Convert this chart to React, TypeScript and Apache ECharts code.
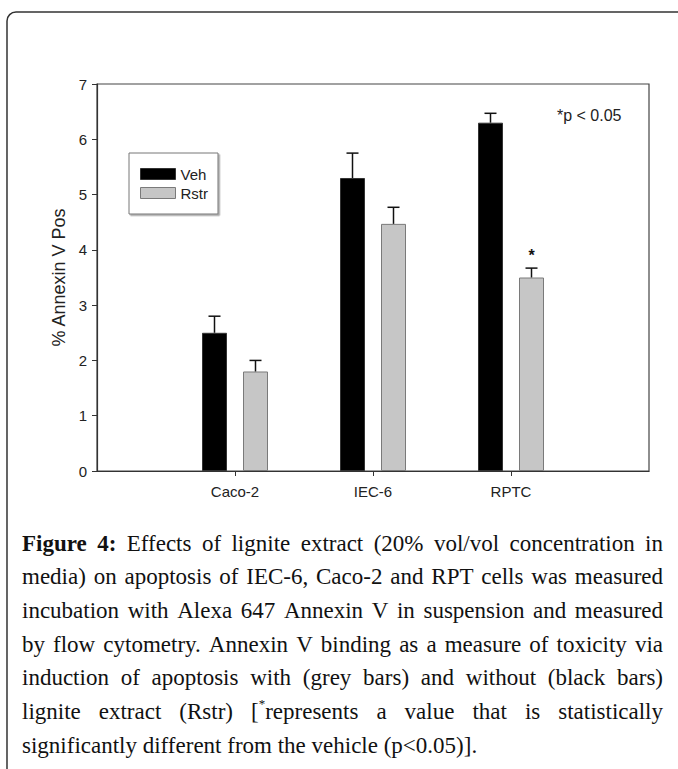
import React, { useEffect, useRef } from "react";
import * as echarts from "echarts";

// ---------- data ----------
const categories = ["Caco-2", "IEC-6", "RPTC"];
const vehValues = [2.5, 5.3, 6.3];
const vehErrors = [0.3, 0.45, 0.17];
const rstrValues = [1.8, 4.47, 3.5];
const rstrErrors = [0.2, 0.3, 0.17];
const rstrSignificant = [false, false, true];
const yTicks = [0, 1, 2, 3, 4, 5, 6, 7];

const captionLines = [
  "Figure 4: Effects of lignite extract (20% vol/vol concentration in",
  "media) on apoptosis of IEC-6, Caco-2 and RPT cells was measured",
  "incubation with Alexa 647 Annexin V in suspension and measured",
  "by flow cytometry. Annexin V binding as a measure of toxicity via",
  "induction of apoptosis with (grey bars) and without (black bars)",
  "lignite extract (Rstr) [^represents a value that is statistically",
  "significantly different from the vehicle (p<0.05)].",
];

const SANS = "'Liberation Sans', Arial, sans-serif";
const SERIF = "'Liberation Serif', 'Times New Roman', serif";
const CAP_SIZE = 23;
const CAP_X0 = 22;
const CAP_X1 = 663;
const CAP_Y0 = 543;
const CAP_DY = 33.7;

const BAR_W = 25;
const BAR_GAP = 16;
const OFFSET = (BAR_W + BAR_GAP) / 2;

function buildCaption(): any[] {
  const canvas = document.createElement("canvas");
  const ctx = canvas.getContext("2d")!;
  const measure = (t: string, bold: boolean, size: number) => {
    ctx.font = `${bold ? "bold " : ""}${size}px ${SERIF}`;
    return ctx.measureText(t).width;
  };
  const els: any[] = [];
  captionLines.forEach((line, li) => {
    const words = line.split(" ");
    const wordSegs = words.map((w, wi) => {
      const bold = li === 0 && wi < 2;
      if (w.includes("^")) {
        const [a, b] = w.split("^");
        return [
          { t: a, bold, sup: false },
          { t: "*", bold, sup: true },
          { t: b, bold, sup: false },
        ].filter((s) => s.t.length > 0);
      }
      return [{ t: w, bold, sup: false }];
    });
    const segW = (s: any) => measure(s.t, s.bold, s.sup ? 13 : CAP_SIZE);
    const widths = wordSegs.map((segs) => segs.reduce((acc, s) => acc + segW(s), 0));
    const total = widths.reduce((a, b) => a + b, 0);
    const isLast = li === captionLines.length - 1;
    const gap = isLast || words.length < 2
      ? measure(" ", false, CAP_SIZE)
      : (CAP_X1 - CAP_X0 - total) / (words.length - 1);
    let x = CAP_X0;
    const y = CAP_Y0 + li * CAP_DY;
    wordSegs.forEach((segs, wi) => {
      let sx = x;
      segs.forEach((s) => {
        els.push({
          type: "text",
          x: sx,
          y: s.sup ? y - 8 : y,
          style: {
            text: s.t,
            fontFamily: SERIF,
            fontSize: s.sup ? 13 : CAP_SIZE,
            fontWeight: s.bold ? "bold" : "normal",
            fill: "#111",
            verticalAlign: "middle",
            align: "left",
          },
        });
        sx += segW(s);
      });
      x += widths[wi] + gap;
    });
  });
  return els;
}

export default function App() {
  const ref = useRef<HTMLDivElement>(null);

  useEffect(() => {
    const chart = echarts.init(ref.current!, null, { renderer: "svg" });
    const xCats = ["", ...categories, ""];
    const pad = (arr: number[]) => [null, ...arr, null];

    const errData = (vals: number[], errs: number[], sig?: boolean[]) =>
      vals.map((v, i) => [i + 1, v, errs[i], sig && sig[i] ? 1 : 0]);

    const makeErr = (offset: number) => (params: any, api: any) => {
      const base = api.coord([api.value(0), api.value(1)]);
      const top = api.coord([api.value(0), api.value(1) + api.value(2)]);
      const cx = base[0] + offset;
      const children: any[] = [
        {
          type: "line",
          shape: { x1: cx, y1: base[1], x2: cx, y2: top[1] },
          style: { stroke: "#111", lineWidth: 1.5 },
        },
        {
          type: "line",
          shape: { x1: cx - 6, y1: top[1], x2: cx + 6, y2: top[1] },
          style: { stroke: "#111", lineWidth: 1.5 },
        },
      ];
      if (api.value(3) === 1) {
        children.push({
          type: "text",
          x: cx,
          y: top[1] - 13,
          style: {
            text: "*",
            fontFamily: SANS,
            fontSize: 16,
            fontWeight: "bold",
            fill: "#111",
            align: "center",
            verticalAlign: "middle",
          },
        });
      }
      return { type: "group", children };
    };

    chart.setOption({
      animation: false,
      backgroundColor: "#ffffff",
      grid: {
        left: 97,
        top: 84,
        right: 29,
        bottom: 298,
        show: true,
        borderColor: "#444",
        borderWidth: 1.2,
        backgroundColor: "transparent",
      },
      legend: {
        left: 129,
        top: 153,
        orient: "vertical",
        icon: "rect",
        itemWidth: 35,
        itemHeight: 11,
        itemGap: 3,
        itemStyle: { borderWidth: 1 },
        padding: [13, 10, 13, 11],
        borderColor: "#777",
        borderWidth: 1,
        backgroundColor: "#fff",
        shadowColor: "rgba(0,0,0,0.35)",
        shadowBlur: 1,
        shadowOffsetX: 1.5,
        shadowOffsetY: 1.5,
        textStyle: { fontFamily: SANS, fontSize: 15, lineHeight: 16, color: "#222" },
        data: ["Veh", "Rstr"],
      },
      xAxis: {
        type: "category",
        data: xCats,
        boundaryGap: false,
        axisLine: { lineStyle: { color: "#333", width: 1.2 } },
        axisTick: {
          show: true,
          length: 5,
          interval: (i: number) => i >= 1 && i <= categories.length,
          lineStyle: { color: "#333" },
        },
        axisLabel: {
          interval: 0,
          margin: 13,
          fontFamily: SANS,
          fontSize: 15,
          color: "#222",
        },
        splitLine: { show: false },
      },
      yAxis: {
        type: "value",
        min: yTicks[0],
        max: yTicks[yTicks.length - 1],
        interval: 1,
        name: "% Annexin V Pos",
        nameLocation: "middle",
        nameGap: 26,
        nameTextStyle: { fontFamily: SANS, fontSize: 18, color: "#222" },
        axisLine: { show: true, lineStyle: { color: "#333", width: 1.2 } },
        axisTick: { show: true, length: 5, lineStyle: { color: "#333" } },
        axisLabel: { margin: 10, fontFamily: SANS, fontSize: 15, color: "#222" },
        splitLine: { show: false },
      },
      series: [
        {
          name: "Veh",
          type: "bar",
          data: pad(vehValues),
          barWidth: BAR_W,
          barGap: `${(BAR_GAP / BAR_W) * 100}%`,
          itemStyle: { color: "#000", borderColor: "#333", borderWidth: 1 },
        },
        {
          name: "Rstr",
          type: "bar",
          data: pad(rstrValues),
          barWidth: BAR_W,
          itemStyle: { color: "#c6c6c6", borderColor: "#7a7a7a", borderWidth: 1 },
        },
        {
          type: "custom",
          name: "vehErr",
          renderItem: makeErr(-OFFSET),
          data: errData(vehValues, vehErrors),
          encode: { x: 0, y: 1 },
          z: 5,
        },
        {
          type: "custom",
          name: "rstrErr",
          renderItem: makeErr(OFFSET),
          data: errData(rstrValues, rstrErrors, rstrSignificant),
          encode: { x: 0, y: 1 },
          z: 5,
        },
      ],
      graphic: [
        {
          type: "rect",
          shape: { x: 7, y: 12, width: 700, height: 800, r: 9 },
          style: { fill: "none", stroke: "#333", lineWidth: 1.5 },
          silent: true,
        },
        {
          type: "text",
          x: 557,
          y: 115,
          style: {
            text: "*p < 0.05",
            fontFamily: SANS,
            fontSize: 16,
            fill: "#222",
            verticalAlign: "middle",
          },
        },
        ...buildCaption(),
      ],
    });
    return () => chart.dispose();
  }, []);

  return (
    <div
      ref={ref}
      style={{ position: "fixed", left: 0, top: 0, width: 678, height: 769, background: "#fff" }}
    />
  );
}
